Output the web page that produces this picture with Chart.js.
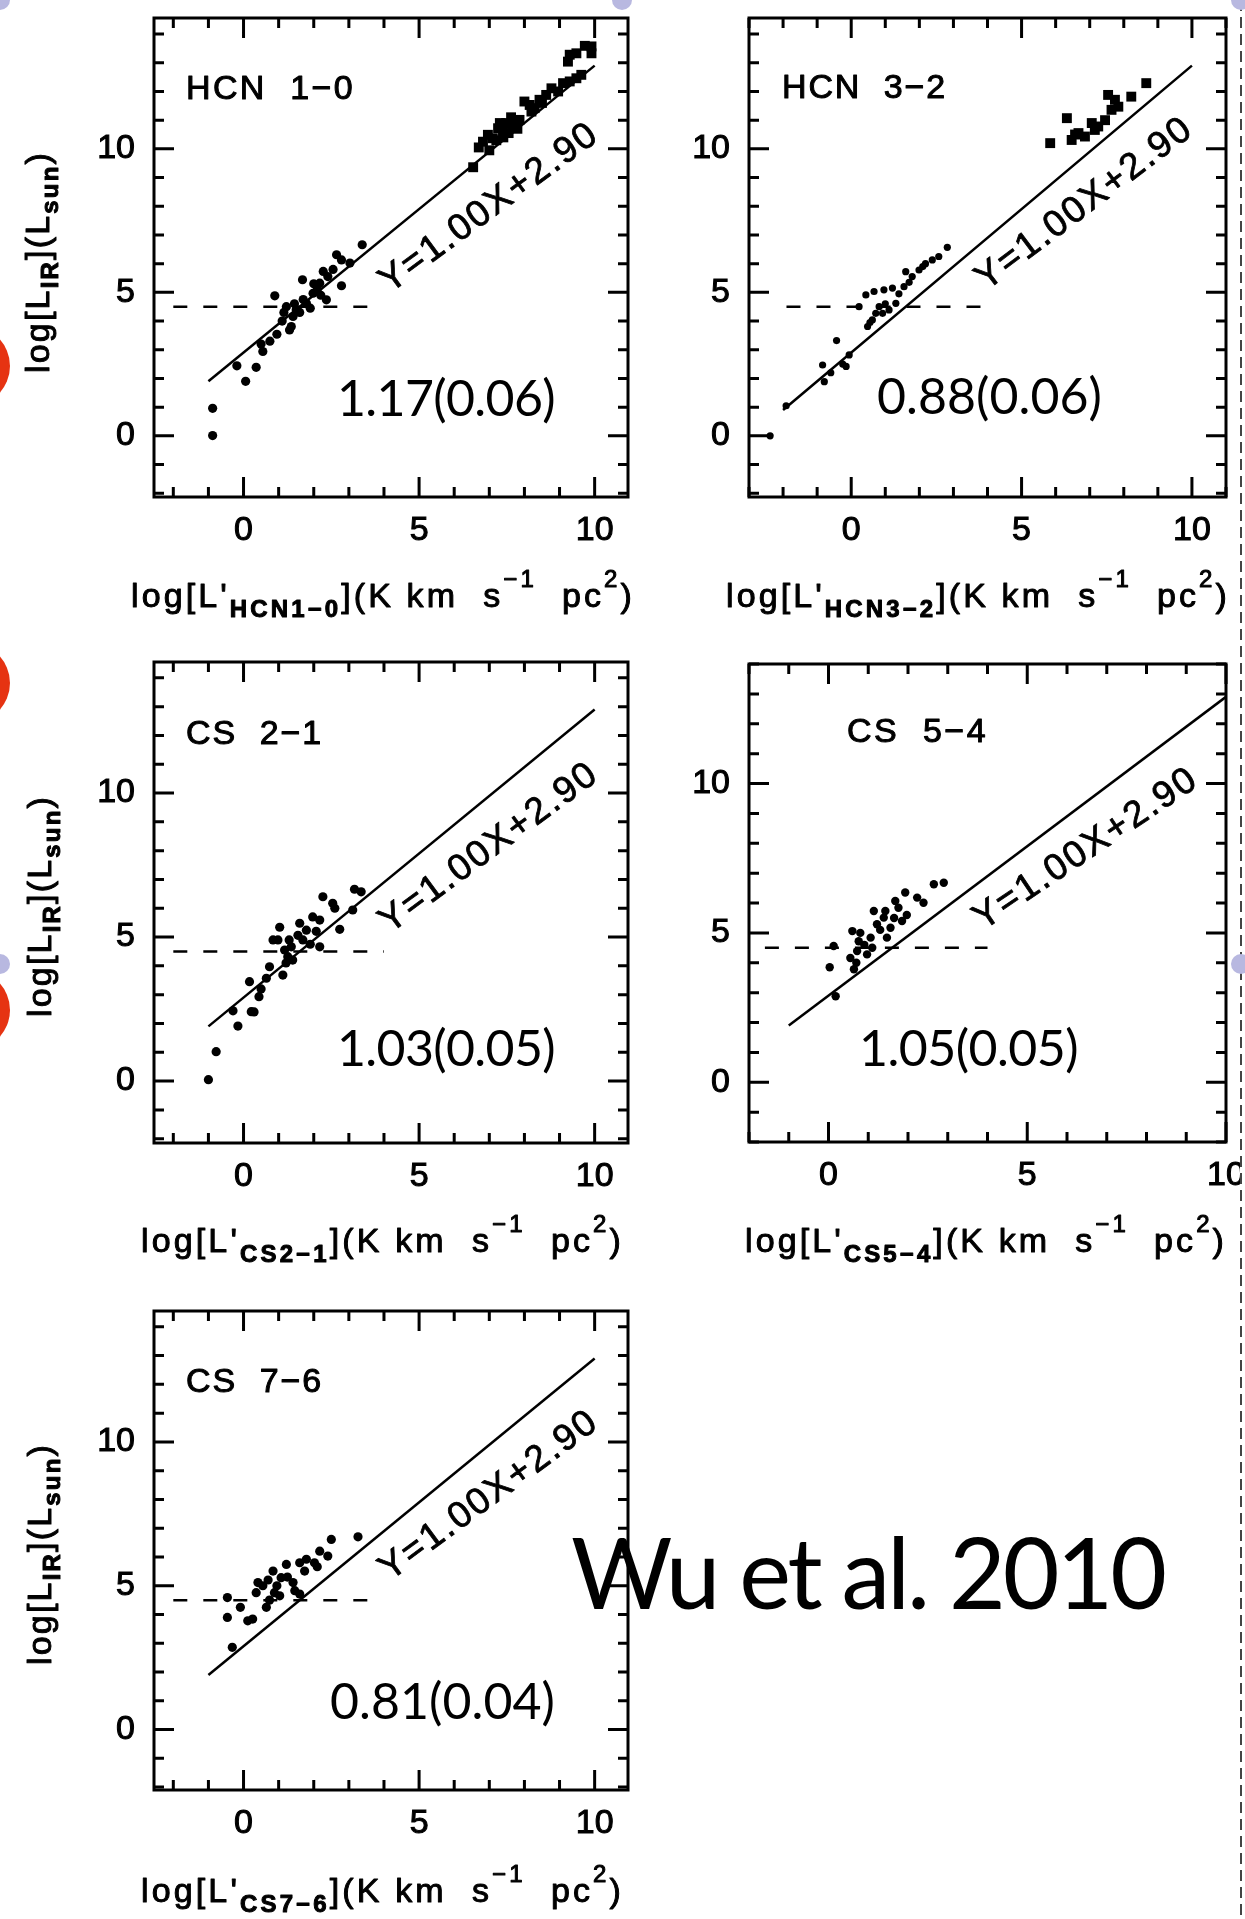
<!DOCTYPE html>
<html>
<head>
<meta charset="utf-8">
<script src="https://cdn.jsdelivr.net/npm/chart.js@4.4.1/dist/chart.umd.min.js"></script>
<style>
  html, body { margin: 0; background: #fff; }
  #page { position: relative; width: 1245px; height: 1919px; overflow: hidden; background: #fff; }
  canvas { position: absolute; }
  .dot { position: absolute; border-radius: 50%; }
  #edge { position: absolute; left: 1240px; top: 0; width: 2px; height: 1919px;
          background: repeating-linear-gradient(to bottom, #444 0 11px, transparent 11px 17px); }
</style>
</head>
<body>
<div id="page">
  <canvas id="p1"></canvas>
  <canvas id="p2"></canvas>
  <canvas id="p3"></canvas>
  <canvas id="p4"></canvas>
  <canvas id="p5"></canvas>
  <div id="edge"></div>
  <div class="dot" style="left:-70px;top:326px;width:80px;height:80px;background:#e63312"></div>
  <div class="dot" style="left:-70px;top:643px;width:80px;height:80px;background:#e63312"></div>
  <div class="dot" style="left:-70px;top:970px;width:80px;height:80px;background:#e63312"></div>
  <div class="dot" style="left:-10px;top:-10px;width:20px;height:20px;background:#b8b8e0"></div>
  <div class="dot" style="left:612px;top:-10px;width:20px;height:20px;background:#b8b8e0"></div>
  <div class="dot" style="left:1231px;top:-10px;width:20px;height:20px;background:#b8b8e0"></div>
  <div class="dot" style="left:-10px;top:954px;width:20px;height:20px;background:#b8b8e0"></div>
  <div class="dot" style="left:1231px;top:954px;width:20px;height:20px;background:#b8b8e0"></div>
</div>
<script>
var xTicks = [0, 5, 10];
var yTicks = [0, 5, 10];

// [log L'(line), log L_IR]
var hcn10Cores = [[-0.88,0.01],[-0.88,0.96],[0.06,1.9],[-0.19,2.44],[0.36,2.39],[0.55,2.94],[0.5,3.2],[0.95,3.54],
  [1.31,3.69],[0.89,4.88],[1.68,5.44],[1.41,4.16],[1.22,4.5],[1.5,4.39],[1.79,4.62],[1.98,4.97],[2.27,5.73],
  [2.17,5.32],[2.1,5.1],[2.36,4.74],[2.65,6.31],[2.79,6.13],[3.03,6.02],[2.79,5.23],[3.38,6.66],[1.6,4.3],
  [1.36,3.81],[1.1,4.0],[1.7,4.75],[1.9,4.45],[2.0,5.3],[2.4,5.55],[2.55,5.8],[1.45,4.6],[0.75,3.3],[2.2,4.9],[1.15,4.3]];
var hcn10Galaxies = [[6.54,9.36],[6.7,10.05],[6.82,10.25],[6.96,10.49],[7.0,9.95],[7.1,10.37],[7.2,10.3],[7.25,10.72],
  [7.39,10.6],[7.4,10.4],[7.48,10.9],[7.55,10.55],[7.67,10.84],[7.62,11.1],[7.3,10.9],[7.8,10.7],[7.86,11.01],
  [8.0,11.65],[8.15,11.53],[8.29,11.42],[8.43,11.71],[8.62,11.88],[8.77,12.11],[8.96,12.0],[9.1,12.29],[9.29,12.35],
  [9.48,12.46],[9.62,12.58],[9.24,13.04],[9.29,13.28],[9.48,13.33],[9.72,13.59],[9.91,13.57],[9.91,13.33],[8.5,11.6],[8.2,11.3]];
var hcn32Cores = [[-2.38,0],[-1.91,1.05],[-0.79,1.89],[-0.84,2.47],[-0.15,2.42],[-0.06,2.82],[-0.43,3.32],[-0.25,2.5],
  [0.48,3.81],[0.62,4.04],[0.72,4.27],[0.92,4.27],[0.82,4.5],[1.11,4.39],[1.31,4.62],[0.43,4.91],[0.67,5.03],
  [0.96,5.09],[1.21,5.15],[1.55,5.2],[1.6,5.72],[1.79,5.55],[1.99,5.78],[2.18,6.0],[2.38,6.13],[2.57,6.25],
  [2.82,6.57],[0.23,4.5],[0.55,3.95],[1.0,4.6],[1.4,4.95],[1.7,5.35],[2.1,5.9],[-0.6,2.2]];
var hcn32Galaxies = [[5.84,10.2],[6.33,11.07],[6.47,10.31],[6.57,10.5],[6.67,10.55],[6.86,10.43],[7.06,10.9],
  [7.15,10.66],[7.25,10.78],[7.45,11.0],[7.54,11.88],[7.64,11.36],[7.74,11.71],[7.84,11.47],[8.22,11.82],[8.66,12.29]];
var cs21Cores = [[-1.0,0.05],[-0.78,1.02],[-0.16,1.91],[-0.3,2.44],[0.22,2.41],[0.3,2.4],[0.44,2.93],[0.17,3.45],
  [0.65,3.57],[0.74,3.97],[1.12,3.68],[0.98,4.9],[1.03,5.34],[0.84,4.9],[1.17,4.55],[1.26,4.32],[1.36,4.66],
  [1.21,4.1],[1.6,5.48],[1.79,5.24],[1.69,4.9],[1.97,5.7],[2.17,5.59],[2.07,5.2],[2.26,6.4],[2.54,6.17],[2.6,6.0],
  [2.17,4.66],[2.74,5.27],[3.16,6.66],[3.35,6.57],[3.11,5.94],[1.55,5.06],[1.9,4.75],[1.4,4.2],[1.3,4.9],[0.5,3.2]];
var cs54Cores = [[0.18,2.88],[0.03,3.85],[0.13,4.56],[0.6,5.06],[0.64,3.78],[0.55,4.16],[0.72,4.39],[0.76,4.72],
  [0.9,4.6],[0.97,4.28],[1.06,4.84],[1.14,5.73],[1.22,5.29],[1.39,5.51],[1.43,5.73],[1.47,4.84],[1.56,5.17],
  [1.68,6.07],[1.76,5.84],[1.85,5.4],[1.93,6.35],[1.97,5.6],[2.23,6.18],[2.39,6.01],[2.65,6.63],[2.9,6.68],
  [0.8,5.0],[1.3,5.1],[0.7,4.0],[1.1,4.5],[1.65,5.5]];
var cs76Cores = [[-0.32,2.86],[-0.46,3.9],[-0.46,4.59],[-0.09,4.25],[0.12,3.78],[0.26,3.84],[0.36,4.76],[0.41,5.11],
  [0.65,4.25],[0.74,4.5],[0.84,5.51],[0.88,4.76],[1.07,5.28],[1.22,5.74],[1.03,4.65],[1.41,5.11],[1.46,4.83],
  [1.6,4.71],[1.6,5.8],[1.79,5.92],[1.74,5.51],[2.02,5.8],[2.1,5.66],[2.17,6.2],[2.4,6.03],[2.5,6.61],[3.26,6.7],
  [0.55,5.0],[0.7,5.2],[0.95,5.0],[1.25,5.3]];

// Y = 1.00X + 2.90 end points, and the dashed L_IR = 10^4.5 cut
var fitShort = [[-1, 1.9], [10, 12.9]];
var fitLong = [[-2, 0.9], [10, 12.9]];
var cut1 = [[-2, 4.5], [3.7, 4.5]];
var cut2 = [[-1.9, 4.5], [3.9, 4.5]];
var cut3 = [[-2, 4.5], [4.0, 4.5]];
var cut4 = [[-1.6, 4.5], [4.0, 4.5]];
var cut5 = [[-2, 4.5], [3.6, 4.5]];

var lineNames = ['HCN  1\u22120', 'HCN  3\u22122', 'CS  2\u22121', 'CS  5\u22124', 'CS  7\u22126'];
var lineSubs = ['HCN1\u22120', 'HCN3\u22122', 'CS2\u22121', 'CS5\u22124', 'CS7\u22126'];
var slopes = ['1.17(0.06)', '0.88(0.06)', '1.03(0.05)', '1.05(0.05)', '0.81(0.04)'];
var fitText = 'Y=1.00X+2.90';

var panels = [
  { id: 'p1', cv: [0, 0, 640, 640], box: [154, 18, 628, 497], xr: [-2.55, 10.95], yr: [-2.13, 14.56],
    cores: hcn10Cores, gal: hcn10Galaxies, fit: fitShort, cut: cut1, r: 4.6,
    nameAt: [186, 99, 169], fitAt: [7.0, 7.94], coefAt: [337, 416, 218], xtAt: [131, 607, 504], ytAt: [49, 262, 222] },
  { id: 'p2', cv: [640, 0, 600, 640], box: [749, 18, 1226, 497], xr: [-3, 11], yr: [-2.13, 14.56],
    cores: hcn32Cores, gal: hcn32Galaxies, fit: fitLong, cut: cut2, r: 3.6,
    nameAt: [782, 98, 165], fitAt: [6.85, 8.08], coefAt: [877, 414, 225], xtAt: [726, 607, 504] },
  { id: 'p3', cv: [0, 640, 640, 640], box: [154, 662, 628, 1143], xr: [-2.55, 10.95], yr: [-2.15, 14.55],
    cores: cs21Cores, fit: fitShort, cut: cut3, r: 4.6,
    nameAt: [186, 744, 137], fitAt: [7.0, 8.09], coefAt: [337, 1066, 218], xtAt: [141, 1252, 483], ytAt: [51, 906, 222] },
  { id: 'p4', cv: [640, 640, 600, 640], box: [749, 664, 1226, 1142], xr: [-2, 10], yr: [-2, 14],
    cores: cs54Cores, fit: fitShort, cut: cut4, r: 4.2,
    nameAt: [847, 742, 141], fitAt: [6.48, 7.8], coefAt: [859, 1066, 219], xtAt: [745, 1252, 482] },
  { id: 'p5', cv: [0, 1280, 1240, 639], box: [154, 1311, 628, 1790], xr: [-2.55, 10.95], yr: [-2.1, 14.55],
    cores: cs76Cores, fit: fitShort, cut: cut5, r: 4.6,
    nameAt: [186, 1392, 137], fitAt: [7.0, 8.13], coefAt: [330, 1719, 225], xtAt: [141, 1902, 483], ytAt: [51, 1554, 222],
    note: ['Wu et al. 2010', 571, 1609, 593] }
];

var F34 = '34px "Liberation Sans", Arial, sans-serif';
var F37 = '37px "Liberation Sans", Arial, sans-serif';
var B24 = 'bold 24px "Liberation Sans", Arial, sans-serif';
var N24 = '24px "Liberation Sans", Arial, sans-serif';
var GILL = 'Lato, "Open Sans", sans-serif';

function pts(a) {
  return a.map(function (p) { return { x: p[0], y: p[1] }; });
}

// draw runs of text spread to a given width; stroke > 0 thickens the IDL lettering
function spread(ctx, parts, x, y, width, align, stroke) {
  var nat = 0, n = 0;
  ctx.letterSpacing = '0px';
  parts.forEach(function (p) { ctx.font = p[1]; nat += ctx.measureText(p[0]).width; n += p[0].length; });
  ctx.letterSpacing = ((width - nat) / n) + 'px';
  var cx = align === 'center' ? x - width / 2 : x;
  ctx.textAlign = 'left';
  ctx.lineWidth = stroke || 0;
  ctx.lineJoin = 'round';
  parts.forEach(function (p) {
    ctx.font = p[1];
    ctx.fillText(p[0], cx, y + (p[2] || 0));
    if (stroke) ctx.strokeText(p[0], cx, y + (p[2] || 0));
    cx += ctx.measureText(p[0]).width;
  });
  ctx.letterSpacing = '0px';
}

var frame = {
  id: 'frame',
  afterDraw: function (chart) {
    var i = panels.findIndex(function (p) { return p.id === chart.canvas.id; });
    var p = panels[i], ctx = chart.ctx, a = chart.chartArea;
    var xs = chart.scales.x, ys = chart.scales.y, ox = p.cv[0], oy = p.cv[1];
    var v, q, len;
    ctx.save();
    ctx.strokeStyle = '#000';
    ctx.fillStyle = '#000';
    ctx.lineWidth = 3;
    ctx.strokeRect(a.left, a.top, a.right - a.left, a.bottom - a.top);

    // IDL style ticks on all four sides
    ctx.beginPath();
    for (v = Math.ceil(xs.min); v <= xs.max; v++) {
      q = xs.getPixelForValue(v);
      len = v % 5 === 0 ? 20 : 10;
      ctx.moveTo(q, a.bottom); ctx.lineTo(q, a.bottom - len);
      ctx.moveTo(q, a.top); ctx.lineTo(q, a.top + len);
    }
    for (v = Math.ceil(ys.min); v <= ys.max; v++) {
      q = ys.getPixelForValue(v);
      len = v % 5 === 0 ? 20 : 10;
      ctx.moveTo(a.left, q); ctx.lineTo(a.left + len, q);
      ctx.moveTo(a.right, q); ctx.lineTo(a.right - len, q);
    }
    ctx.stroke();

    ctx.textBaseline = 'alphabetic';
    spread(ctx, [[lineNames[i], F34]], p.nameAt[0] - ox, p.nameAt[1] - oy, p.nameAt[2], 'left', 1);

    // fit label along the line
    var x0 = xs.getPixelForValue(p.fit[0][0]), y0 = ys.getPixelForValue(p.fit[0][1]);
    var x1 = xs.getPixelForValue(p.fit[1][0]), y1 = ys.getPixelForValue(p.fit[1][1]);
    var ang = Math.atan2(y1 - y0, x1 - x0) + 3 * Math.PI / 180;
    ctx.save();
    ctx.translate(xs.getPixelForValue(p.fitAt[0]), ys.getPixelForValue(p.fitAt[1]));
    ctx.rotate(ang);
    ctx.textBaseline = 'middle';
    spread(ctx, [[fitText, F37]], 0, 0, 262, 'center', 0.8);
    ctx.restore();

    // axis titles
    ctx.textBaseline = 'alphabetic';
    spread(ctx, [["log[L'", F34], [lineSubs[i], B24, 10], ['](K km  s', F34], ['\u22121', N24, -20],
      ['  pc', F34], ['2', N24, -20], [')', F34]], p.xtAt[0] - ox, p.xtAt[1] - oy, p.xtAt[2], 'left', 1);
    if (p.ytAt) {
      ctx.save();
      ctx.translate(p.ytAt[0] - ox, p.ytAt[1] - oy);
      ctx.rotate(-Math.PI / 2);
      spread(ctx, [['log[L', F34], ['IR', B24, 9], ['](L', F34], ['sun', B24, 9], [')', F34]], 0, 0, p.ytAt[2], 'center', 1);
      ctx.restore();
    }

    // slide overlay text
    spread(ctx, [[slopes[i], '50px ' + GILL]], p.coefAt[0] - ox, p.coefAt[1] - oy, p.coefAt[2]);
    if (p.note) {
      spread(ctx, [[p.note[0], '98px ' + GILL]], p.note[1] - ox, p.note[2] - oy, p.note[3]);
    }
    ctx.restore();
  }
};

function makePanel(p) {
  var cv = document.getElementById(p.id);
  cv.width = p.cv[2];
  cv.height = p.cv[3];
  cv.style.left = p.cv[0] + 'px';
  cv.style.top = p.cv[1] + 'px';

  var datasets = [
    { data: pts(p.cores), pointRadius: p.r, pointBackgroundColor: '#000', pointBorderWidth: 0 },
    { data: pts(p.fit), showLine: true, borderColor: '#000', borderWidth: 2.5, pointRadius: 0 },
    { data: pts(p.cut), showLine: true, borderColor: '#000', borderWidth: 2.5, borderDash: [14, 16], pointRadius: 0 }
  ];
  if (p.gal) {
    datasets.push({ data: pts(p.gal), pointStyle: 'rect', pointRadius: 7, pointBackgroundColor: '#000', pointBorderWidth: 0 });
  }

  var tickFont = { family: '"Liberation Sans", Arial, sans-serif', size: 34 };
  var noPad = function (s) { s.paddingLeft = 0; s.paddingRight = 0; s.paddingTop = 0; s.paddingBottom = 0; };

  return new Chart(cv, {
    type: 'scatter',
    data: { datasets: datasets },
    options: {
      responsive: false,
      animation: false,
      events: [],
      layout: { padding: { left: 0, top: p.box[1] - p.cv[1], right: p.cv[0] + p.cv[2] - p.box[2], bottom: 0 } },
      plugins: { legend: { display: false }, tooltip: { enabled: false } },
      scales: {
        x: {
          type: 'linear', min: p.xr[0], max: p.xr[1],
          grid: { display: false, drawTicks: false }, border: { display: false },
          ticks: { font: tickFont, color: '#000', textStrokeColor: '#000', textStrokeWidth: 1, padding: 13, maxRotation: 0 },
          afterBuildTicks: function (s) { s.ticks = xTicks.map(function (v) { return { value: v }; }); },
          afterFit: function (s) { s.height = p.cv[1] + p.cv[3] - p.box[3]; noPad(s); }
        },
        y: {
          type: 'linear', min: p.yr[0], max: p.yr[1],
          grid: { display: false, drawTicks: false }, border: { display: false },
          ticks: { font: tickFont, color: '#000', textStrokeColor: '#000', textStrokeWidth: 1, padding: 19 },
          afterBuildTicks: function (s) { s.ticks = yTicks.map(function (v) { return { value: v }; }); },
          afterFit: function (s) { s.width = p.box[0] - p.cv[0]; noPad(s); }
        }
      }
    },
    plugins: [frame]
  });
}

panels.forEach(makePanel);
</script>
</body>
</html>
